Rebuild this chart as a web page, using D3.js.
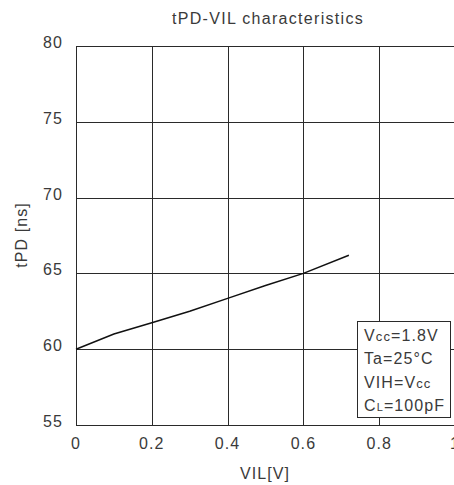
<!DOCTYPE html>
<html>
<head>
<meta charset="utf-8">
<script src="https://cdn.jsdelivr.net/npm/d3@7"></script>
<style>
  body { margin: 0; background: #fff; }
  text { font-family: "Liberation Sans", Arial, sans-serif; fill: #3a3a3a; letter-spacing: 1.1px; }
</style>
</head>
<body>
<div id="chart"></div>
<script>
// data
var vil = [0, 0.1, 0.2, 0.3, 0.4, 0.5, 0.6, 0.72];
var tpd = [60, 61.0, 61.75, 62.5, 63.35, 64.2, 65.0, 66.2];
var xTicks = [0, 0.2, 0.4, 0.6, 0.8, 1];
var yTicks = [55, 60, 65, 70, 75, 80];

var width = 454, height = 485;
var margin = { top: 46, left: 76 };

var svg = d3.select("#chart").append("svg")
    .attr("width", width)
    .attr("height", height);

var x = d3.scaleLinear().domain([0, 1]).range([margin.left, 455]);
var y = d3.scaleLinear().domain([55, 80]).range([425, margin.top]);

/* grid */
svg.append("g").selectAll("line")
    .data(xTicks)
    .enter().append("line")
    .attr("x1", function (d) { return Math.round(x(d)) + 0.5; })
    .attr("x2", function (d) { return Math.round(x(d)) + 0.5; })
    .attr("y1", y(80)).attr("y2", y(55))
    .attr("stroke", "#2a2a2a").attr("stroke-width", 1);

svg.append("g").selectAll("line")
    .data(yTicks)
    .enter().append("line")
    .attr("x1", x(0)).attr("x2", x(1))
    .attr("y1", function (d) { return Math.round(y(d)) + 0.5; })
    .attr("y2", function (d) { return Math.round(y(d)) + 0.5; })
    .attr("stroke", "#2a2a2a").attr("stroke-width", 1);

/* tick labels */
svg.append("g").selectAll("text")
    .data(yTicks)
    .enter().append("text")
    .attr("x", 63)
    .attr("y", function (d) { return y(d) + 2; })
    .attr("text-anchor", "end")
    .attr("font-size", 16)
    .text(function (d) { return d; });

svg.append("g").selectAll("text")
    .data(xTicks)
    .enter().append("text")
    .attr("x", function (d) { return x(d); })
    .attr("y", 449)
    .attr("text-anchor", "middle")
    .attr("font-size", 16)
    .text(function (d) { return d; });

/* curve */
var line = d3.line()
    .x(function (d, i) { return x(vil[i]); })
    .y(function (d) { return y(d); });

svg.append("path")
    .datum(tpd)
    .attr("d", line)
    .attr("fill", "none")
    .attr("stroke", "#111")
    .attr("stroke-width", 1.5);

/* titles */
svg.append("text")
    .attr("x", 268).attr("y", 24)
    .attr("text-anchor", "middle")
    .attr("font-size", 16)
    .style("letter-spacing", "1.3px")
    .text("tPD-VIL characteristics");

svg.append("text")
    .attr("x", 265).attr("y", 479)
    .attr("text-anchor", "middle")
    .attr("font-size", 16)
    .text("VIL[V]");

svg.append("text")
    .attr("transform", "translate(27,235) rotate(-90)")
    .attr("text-anchor", "middle")
    .attr("font-size", 16)
    .text("tPD [ns]");

/* condition box */
svg.append("rect")
    .attr("x", 357.5).attr("y", 321.5)
    .attr("width", 93).attr("height", 96)
    .attr("fill", "#fff")
    .attr("stroke", "#2a2a2a");

var box = svg.append("g").attr("font-size", 16);
var t1 = box.append("text").attr("x", 364).attr("y", 341);
t1.append("tspan").text("V");
t1.append("tspan").attr("font-size", 13).text("cc");
t1.append("tspan").text("=1.8V");

box.append("text").attr("x", 364).attr("y", 364).text("Ta=25°C");

var t3 = box.append("text").attr("x", 364).attr("y", 388);
t3.append("tspan").text("VIH=V");
t3.append("tspan").attr("font-size", 13).text("cc");

var t4 = box.append("text").attr("x", 364).attr("y", 411);
t4.append("tspan").text("C");
t4.append("tspan").attr("font-size", 11).text("L");
t4.append("tspan").text("=100pF");
</script>
</body>
</html>
